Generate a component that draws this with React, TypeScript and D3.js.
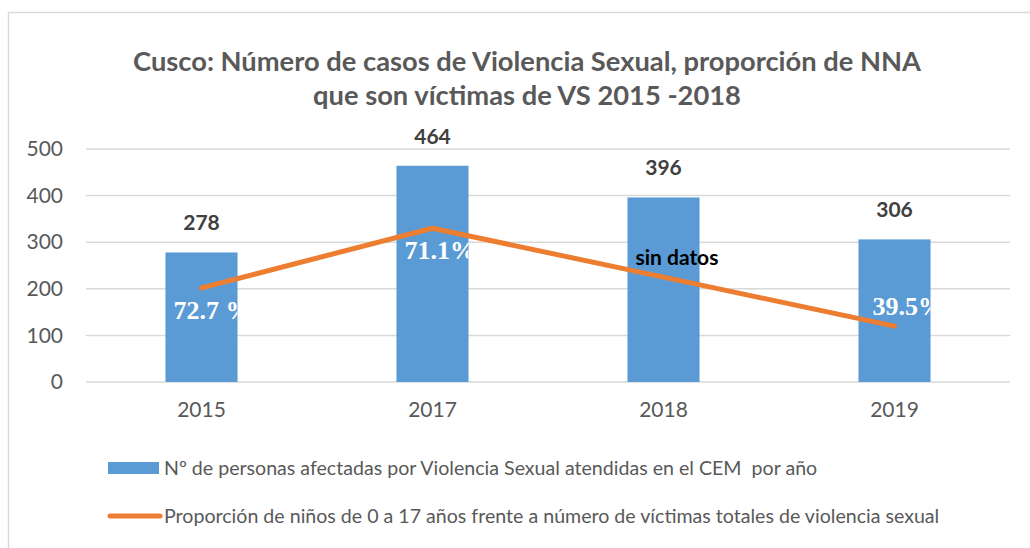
import { useEffect, useRef } from "react";
import * as d3 from "d3";

const years = ["2015", "2017", "2018", "2019"];
const casos = [278, 464, 396, 306];
// orange line, read on the left axis scale
const proporcion = [202, 330, 225, 120];
const proporcionLabels = ["72.7 %", "71.1%", "sin datos", "39.5%"];
const yTicks = [0, 100, 200, 300, 400, 500];
const titleLines = [
  "Cusco: Número de casos de Violencia Sexual, proporción de NNA",
  "que son víctimas de VS 2015 -2018",
];
const legendLabels = [
  "Nº de personas afectadas por Violencia Sexual atendidas en el CEM  por año",
  "Proporción de niños de 0 a 17 años frente a número de víctimas totales de violencia sexual",
];

function App() {
  const svgRef = useRef<SVGSVGElement>(null);

  useEffect(() => {
    const svgElement = svgRef.current;
    if (!svgElement) return;

    const W = 1030;
    const H = 548;
    const margin = { top: 149, right: 20, bottom: 166, left: 86 };
    const plotRight = 1010;
    const plotBottom = H - margin.bottom; // ~382

    const svg = d3.select(svgElement).attr("width", W).attr("height", H);
    const font = "Lato, 'Open Sans', sans-serif";
    const gray = "#595959";

    // chart frame
    svg
      .append("rect")
      .attr("x", 8.5)
      .attr("y", 12.5)
      .attr("width", 1100)
      .attr("height", 700)
      .attr("fill", "#fff")
      .attr("stroke", "#d9d9d9")
      .attr("stroke-width", 1.5);

    // title
    svg
      .selectAll(".title")
      .data(titleLines)
      .enter()
      .append("text")
      .attr("class", "title")
      .attr("x", 527)
      .attr("y", (_, i) => 71 + i * 34)
      .attr("text-anchor", "middle")
      .style("font-family", font)
      .style("font-weight", "bold")
      .style("font-size", "27.3px")
      .style("fill", gray)
      .text((d) => d);

    const x = d3
      .scaleBand()
      .domain(years)
      .range([margin.left, plotRight])
      .paddingInner(0.688)
      .paddingOuter(0.344);

    const y = d3.scaleLinear().domain([0, 500]).range([plotBottom, margin.top]);

    const cx = (d: string) => (x(d) || 0) + x.bandwidth() / 2;

    // gridlines
    svg
      .append("g")
      .selectAll("line")
      .data(yTicks)
      .enter()
      .append("line")
      .attr("x1", margin.left)
      .attr("x2", plotRight)
      .attr("y1", (d) => y(d))
      .attr("y2", (d) => y(d))
      .attr("stroke", "#d9d9d9")
      .attr("stroke-width", 1.5);

    // y axis labels
    svg
      .append("g")
      .attr("transform", `translate(${margin.left - 23},0)`)
      .call(d3.axisLeft(y).tickValues(yTicks).tickSize(0).tickPadding(0))
      .call((g) => g.select(".domain").remove())
      .selectAll("text")
      .style("font-family", font)
      .style("font-size", "21px")
      .style("fill", gray);

    // x axis labels
    svg
      .append("g")
      .attr("transform", `translate(0,${plotBottom + 20})`)
      .call(d3.axisBottom(x).tickSize(0).tickPadding(0))
      .call((g) => g.select(".domain").remove())
      .selectAll("text")
      .style("font-family", font)
      .style("font-size", "21px")
      .style("fill", gray);

    const data = years.map((yr, i) => ({
      yr,
      casos: casos[i],
      prop: proporcion[i],
      label: proporcionLabels[i],
      i,
    }));

    // clip paths for labels inside bars
    const defs = svg.append("defs");
    data.forEach((d) => {
      defs
        .append("clipPath")
        .attr("id", `clip-${d.i}`)
        .append("rect")
        .attr("x", x(d.yr) || 0)
        .attr("y", y(d.casos))
        .attr("width", x.bandwidth())
        .attr("height", plotBottom - y(d.casos));
    });

    // bars
    svg
      .selectAll(".bar")
      .data(data)
      .enter()
      .append("rect")
      .attr("class", "bar")
      .attr("x", (d) => x(d.yr) || 0)
      .attr("y", (d) => y(d.casos))
      .attr("width", x.bandwidth())
      .attr("height", (d) => plotBottom - y(d.casos))
      .attr("fill", "#5b9bd5");

    // bar value labels
    svg
      .selectAll(".value")
      .data(data)
      .enter()
      .append("text")
      .attr("class", "value")
      .attr("x", (d) => cx(d.yr))
      .attr("y", (d) => y(d.casos) - 22)
      .attr("text-anchor", "middle")
      .style("font-family", font)
      .style("font-weight", "bold")
      .style("font-size", "21px")
      .style("fill", "#404040")
      .text((d) => d.casos);

    // line
    const line = d3
      .line<(typeof data)[number]>()
      .x((d) => cx(d.yr))
      .y((d) => y(d.prop));

    svg
      .append("path")
      .datum(data)
      .attr("d", line)
      .attr("fill", "none")
      .attr("stroke", "#ed7d31")
      .attr("stroke-width", 5)
      .attr("stroke-linecap", "round")
      .attr("stroke-linejoin", "round");

    // percentage labels (white serif, clipped by the bar)
    svg
      .selectAll(".pct")
      .data(data.filter((d) => d.label.includes("%")))
      .enter()
      .append("text")
      .attr("class", "pct")
      .attr("clip-path", (d) => `url(#clip-${d.i})`)
      .attr("x", (d) => (x(d.yr) || 0) + (d.i === 3 ? 14 : 8))
      .attr("y", (d) => y(d.prop) + (d.i === 3 ? -11 : 31))
      .style("font-family", "'Liberation Serif', 'Times New Roman', serif")
      .style("font-weight", "bold")
      .style("font-size", "26px")
      .style("fill", "#fff")
      .text((d) => d.label);

    // "sin datos"
    svg
      .selectAll(".nodata")
      .data(data.filter((d) => !d.label.includes("%")))
      .enter()
      .append("text")
      .attr("class", "nodata")
      .attr("x", (d) => (x(d.yr) || 0) + 8)
      .attr("y", (d) => y(d.prop) - 12)
      .style("font-family", font)
      .style("font-weight", "bold")
      .style("font-size", "21px")
      .style("fill", "#000")
      .text((d) => d.label);

    // legend
    const legend = svg.append("g");
    legend
      .append("rect")
      .attr("x", 108)
      .attr("y", 462)
      .attr("width", 51)
      .attr("height", 12)
      .attr("fill", "#5b9bd5");
    legend
      .append("line")
      .attr("x1", 110)
      .attr("x2", 160)
      .attr("y1", 516)
      .attr("y2", 516)
      .attr("stroke", "#ed7d31")
      .attr("stroke-width", 5)
      .attr("stroke-linecap", "round");
    legend
      .selectAll("text")
      .data(legendLabels)
      .enter()
      .append("text")
      .attr("x", 164)
      .attr("y", (_, i) => 475 + i * 48)
      .style("font-family", font)
      .style("font-size", "19.6px")
      .style("white-space", "pre")
      .style("fill", gray)
      .text((d) => d);

    return () => {
      d3.select(svgElement).selectAll("*").remove();
    };
  }, []);

  return (
    <svg
      ref={svgRef}
      style={{ position: "absolute", left: 0, top: 0, display: "block" }}
    ></svg>
  );
}

export default App;
